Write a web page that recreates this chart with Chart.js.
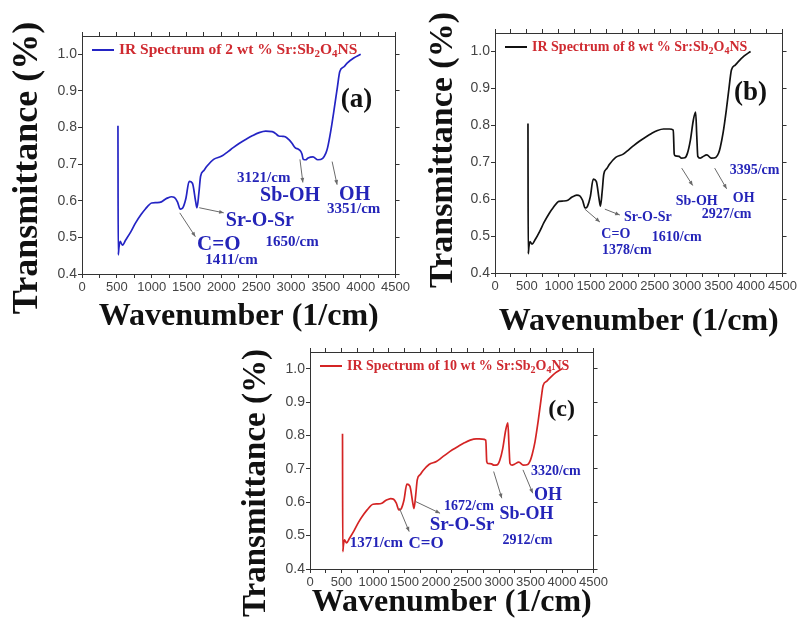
<!DOCTYPE html>
<html>
<head>
<meta charset="utf-8">
<script src="https://cdn.jsdelivr.net/npm/chart.js@4.4.1/dist/chart.umd.min.js"></script>
<style>
  html, body { margin: 0; padding: 0; background: #fff; }
  #stage { position: relative; width: 799px; height: 625px; overflow: hidden; }
  .panel { position: absolute; }
</style>
</head>
<body>
<div id="stage">
  <div class="panel" style="left:0;top:0;width:412px;height:336px"><canvas id="chartA"></canvas></div>
  <div class="panel" style="left:400px;top:0;width:399px;height:341px"><canvas id="chartB"></canvas></div>
  <div class="panel" style="left:200px;top:330px;width:410px;height:295px"><canvas id="chartC"></canvas></div>
</div>
<script>
// wavenumber grid (1/cm) shared by the three spectra
const wavenumbers = [516, 520, 530, 547, 580, 627, 700, 767, 850, 907, 1000, 1070, 1140, 1200, 1234, 1280,
  1327, 1370, 1411, 1445, 1491, 1538, 1585, 1632, 1650, 1678, 1702, 1750, 1795, 1889, 2006, 2100,
  2170, 2260, 2356, 2450, 2543, 2637, 2730, 2790, 2805, 2824, 2880, 2917, 2970, 3011, 3058, 3105,
  3140, 3158, 3174, 3210, 3245, 3315, 3385, 3455, 3500, 3525, 3570, 3619, 3665, 3700, 3760, 3805,
  3900, 4000];

// transmittance, 2 wt %
const trans2 = [0.805, 0.452, 0.472, 0.489, 0.479, 0.493, 0.515, 0.539, 0.563, 0.577, 0.594, 0.595, 0.597, 0.605, 0.608, 0.611,
  0.609, 0.597, 0.577, 0.580, 0.606, 0.653, 0.648, 0.597, 0.581, 0.622, 0.667, 0.683, 0.695, 0.713, 0.722, 0.735,
  0.745, 0.757, 0.768, 0.778, 0.786, 0.790, 0.789, 0.782, 0.779, 0.777, 0.776, 0.775, 0.767, 0.758, 0.745, 0.741,
  0.735, 0.727, 0.714, 0.712, 0.717, 0.720, 0.712, 0.716, 0.730, 0.745, 0.790, 0.850, 0.910, 0.953, 0.966, 0.976,
  0.990, 1.000];

// transmittance, 8 wt %
const trans8 = [0.805, 0.452, 0.470, 0.485, 0.478, 0.490, 0.513, 0.537, 0.562, 0.576, 0.594, 0.595, 0.597, 0.605, 0.608, 0.611,
  0.609, 0.597, 0.576, 0.580, 0.606, 0.654, 0.648, 0.597, 0.581, 0.622, 0.667, 0.683, 0.695, 0.713, 0.722, 0.735,
  0.745, 0.757, 0.768, 0.778, 0.786, 0.790, 0.790, 0.787, 0.722, 0.717, 0.716, 0.711, 0.712, 0.724, 0.760, 0.815,
  0.836, 0.770, 0.716, 0.711, 0.714, 0.720, 0.711, 0.713, 0.725, 0.740, 0.780, 0.840, 0.905, 0.950, 0.963, 0.972,
  0.988, 1.000];

// transmittance, 10 wt %
const trans10 = [0.805, 0.452, 0.470, 0.487, 0.478, 0.492, 0.515, 0.539, 0.563, 0.577, 0.594, 0.595, 0.597, 0.605, 0.608, 0.611,
  0.609, 0.597, 0.577, 0.580, 0.606, 0.654, 0.648, 0.597, 0.581, 0.622, 0.667, 0.683, 0.695, 0.713, 0.722, 0.735,
  0.745, 0.757, 0.768, 0.778, 0.786, 0.790, 0.789, 0.786, 0.722, 0.716, 0.715, 0.711, 0.712, 0.725, 0.760, 0.815,
  0.838, 0.770, 0.716, 0.711, 0.714, 0.720, 0.711, 0.713, 0.727, 0.742, 0.780, 0.840, 0.905, 0.950, 0.963, 0.972,
  0.988, 1.000];

// band labels, placed in data units (wavenumber, transmittance)
const notesA = [
  { text: '(a)', x: 3941, y: 0.875, size: 27, color: '#111' },
  { text: '3121/cm', x: 2609, y: 0.663, size: 15 },
  { text: 'Sb-OH', x: 2987, y: 0.614, size: 20 },
  { text: 'OH', x: 3913, y: 0.617, size: 20 },
  { text: '3351/cm', x: 3899, y: 0.576, size: 15 },
  { text: 'Sr-O-Sr', x: 2553, y: 0.545, size: 20 },
  { text: '1650/cm', x: 3015, y: 0.488, size: 15 },
  { text: 'C=O', x: 1964, y: 0.480, size: 21 },
  { text: '1411/cm', x: 2146, y: 0.438, size: 15 }
];
const arrowsA = [[1403, 0.567, 1627, 0.502], [1683, 0.581, 2034, 0.567], [3128, 0.713, 3170, 0.650], [3590, 0.707, 3661, 0.644]];

const notesB = [
  { text: '(b)', x: 4000, y: 0.887, size: 27, color: '#111' },
  { text: '3395/cm', x: 4063, y: 0.678, size: 14 },
  { text: 'OH', x: 3891, y: 0.601, size: 14 },
  { text: 'Sb-OH', x: 3156, y: 0.595, size: 14 },
  { text: '2927/cm', x: 3625, y: 0.560, size: 14 },
  { text: 'Sr-O-Sr', x: 2391, y: 0.551, size: 14 },
  { text: '1610/cm', x: 2844, y: 0.496, size: 14 },
  { text: 'C=O', x: 1891, y: 0.505, size: 14 },
  { text: '1378/cm', x: 2063, y: 0.461, size: 14 }
];
const arrowsB = [[1406, 0.573, 1641, 0.538], [1719, 0.573, 1953, 0.557], [2922, 0.684, 3094, 0.637], [3438, 0.684, 3625, 0.628]];

const notesC = [
  { text: '(c)', x: 3994, y: 0.877, size: 24, color: '#111' },
  { text: '3320/cm', x: 3901, y: 0.691, size: 14 },
  { text: 'OH', x: 3777, y: 0.622, size: 18 },
  { text: 'Sb-OH', x: 3437, y: 0.565, size: 18 },
  { text: '2912/cm', x: 3452, y: 0.487, size: 14 },
  { text: '1672/cm', x: 2523, y: 0.589, size: 14 },
  { text: 'Sr-O-Sr', x: 2415, y: 0.532, size: 19 },
  { text: 'C=O', x: 1842, y: 0.475, size: 17 },
  { text: '1371/cm', x: 1053, y: 0.478, size: 15 }
];
const arrowsC = [[1419, 0.582, 1574, 0.512], [1677, 0.602, 2064, 0.567], [2915, 0.692, 3044, 0.612], [3380, 0.697, 3535, 0.627]];

const serif = "'Liberation Serif', 'Times New Roman', serif";
const sans = "'Liberation Sans', Arial, sans-serif";
const subDigits = '₀₁₂₃₄₅₆₇₈₉';

// arrows, band labels, the in-plot legend and the rotated y title
const extras = {
  id: 'extras',
  afterDatasetsDraw(chart, args, opts) {
    const { ctx, chartArea: area, scales: { x, y } } = chart;
    ctx.save();

    ctx.strokeStyle = '#6a6a6a';
    ctx.fillStyle = '#6a6a6a';
    ctx.lineWidth = 1;
    opts.arrows.forEach(([x1, y1, x2, y2]) => {
      const ax = x.getPixelForValue(x1), ay = y.getPixelForValue(y1);
      const bx = x.getPixelForValue(x2), by = y.getPixelForValue(y2);
      const ang = Math.atan2(by - ay, bx - ax);
      ctx.beginPath();
      ctx.moveTo(ax, ay);
      ctx.lineTo(bx, by);
      ctx.stroke();
      ctx.beginPath();
      ctx.moveTo(bx, by);
      ctx.lineTo(bx - 5 * Math.cos(ang - 0.4), by - 5 * Math.sin(ang - 0.4));
      ctx.lineTo(bx - 5 * Math.cos(ang + 0.4), by - 5 * Math.sin(ang + 0.4));
      ctx.closePath();
      ctx.fill();
    });

    ctx.textAlign = 'center';
    ctx.textBaseline = 'middle';
    opts.notes.forEach(n => {
      ctx.font = `bold ${n.size}px ${serif}`;
      ctx.fillStyle = n.color || '#2424b8';
      ctx.fillText(n.text, x.getPixelForValue(n.x), y.getPixelForValue(n.y));
    });

    // legend inside the frame, with real subscripts
    const ds = chart.data.datasets[0];
    const lx = area.left + 10, ly = area.top + 14;
    ctx.strokeStyle = ds.borderColor;
    ctx.lineWidth = 2;
    ctx.beginPath();
    ctx.moveTo(lx, ly);
    ctx.lineTo(lx + 22, ly);
    ctx.stroke();
    ctx.textAlign = 'left';
    ctx.fillStyle = '#cf2a30';
    let tx = lx + 27;
    const fs = opts.legendSize;
    for (const ch of ds.label) {
      const k = subDigits.indexOf(ch);
      if (k >= 0) {
        ctx.font = `bold ${Math.round(fs * 0.72)}px ${serif}`;
        ctx.fillText(String(k), tx, ly + fs * 0.3);
        tx += ctx.measureText(String(k)).width;
      } else {
        ctx.font = `bold ${fs}px ${serif}`;
        ctx.fillText(ch, tx, ly);
        tx += ctx.measureText(ch).width;
      }
    }

    const t = opts.yTitle;
    ctx.translate(t.x, t.y);
    ctx.rotate(-Math.PI / 2);
    ctx.textAlign = 'center';
    ctx.fillStyle = '#111';
    ctx.font = `bold ${t.size}px ${serif}`;
    ctx.fillText('Transmittance (%)', 0, 0);
    ctx.restore();
  }
};

function makeScales(yWidth, xHeight, titleGap) {
  const frame = { color: '#333', width: 1 };
  const ticks = { drawOnChartArea: false, tickLength: 4, color: '#333' };
  return {
    x: {
      type: 'linear', position: 'bottom', min: 0, max: 4500,
      ticks: {
        stepSize: 250, autoSkip: false, maxRotation: 0, padding: 2, color: '#444',
        font: { family: sans, size: 13 },
        callback: v => (v % 500 === 0 ? String(v) : '')
      },
      grid: ticks, border: frame,
      title: {
        display: true, text: 'Wavenumber (1/cm)', color: '#111',
        font: { family: serif, size: 32, weight: 'bold' }, padding: { top: 0, bottom: titleGap }
      },
      afterFit: s => { s.height = xHeight; }
    },
    x2: {
      type: 'linear', position: 'top', min: 0, max: 4500,
      ticks: { display: false, stepSize: 250 },
      grid: ticks, border: frame,
      afterFit: s => { s.height = 4; }
    },
    y: {
      type: 'linear', position: 'left', min: 0.4, max: 1.05,
      ticks: {
        stepSize: 0.1, includeBounds: false, padding: 1, color: '#444',
        font: { family: sans, size: 14 },
        callback: v => v.toFixed(1)
      },
      grid: ticks, border: frame,
      afterFit: s => { s.width = yWidth; }
    },
    y2: {
      type: 'linear', position: 'right', min: 0.4, max: 1.05,
      ticks: { display: false, stepSize: 0.1, includeBounds: false },
      grid: ticks, border: frame,
      afterFit: s => { s.width = 4; }
    }
  };
}

function drawPanel(id, label, color, values, p) {
  new Chart(document.getElementById(id), {
    type: 'line',
    data: {
      datasets: [{
        label: label,
        data: wavenumbers.map((w, i) => ({ x: w, y: values[i] })),
        borderColor: color,
        borderWidth: 1.7,
        pointRadius: 0,
        cubicInterpolationMode: 'monotone',
        fill: false
      }]
    },
    options: {
      responsive: true,
      maintainAspectRatio: false,
      animation: false,
      layout: { padding: { top: p.padTop, right: p.padRight, left: 0, bottom: 0 } },
      scales: makeScales(p.yWidth, p.xHeight, p.titleGap),
      plugins: {
        legend: { display: false },
        tooltip: { enabled: false },
        extras: { notes: p.notes, arrows: p.arrows, legendSize: p.legendSize, yTitle: p.yTitle }
      }
    },
    plugins: [extras]
  });
}

drawPanel('chartA', 'IR Spectrum of 2 wt % Sr:Sb₂O₄NS', '#2424c4', trans2, {
  yWidth: 82, xHeight: 62, padTop: 32, padRight: 5, titleGap: 0,
  notes: notesA, arrows: arrowsA, legendSize: 15.5, yTitle: { x: 28, y: 168, size: 36 }
});
drawPanel('chartB', 'IR Spectrum of 8 wt % Sr:Sb₂O₄NS', '#111111', trans8, {
  yWidth: 95, xHeight: 68, padTop: 29, padRight: 12, titleGap: 0,
  notes: notesB, arrows: arrowsB, legendSize: 14, yTitle: { x: 43, y: 150, size: 34 }
});
drawPanel('chartC', 'IR Spectrum of 10 wt % Sr:Sb₂O₄NS', '#d42424', trans10, {
  yWidth: 110, xHeight: 56, padTop: 18, padRight: 6, titleGap: 3,
  notes: notesC, arrows: arrowsC, legendSize: 14, yTitle: { x: 56, y: 153, size: 33 }
});
</script>
</body>
</html>
